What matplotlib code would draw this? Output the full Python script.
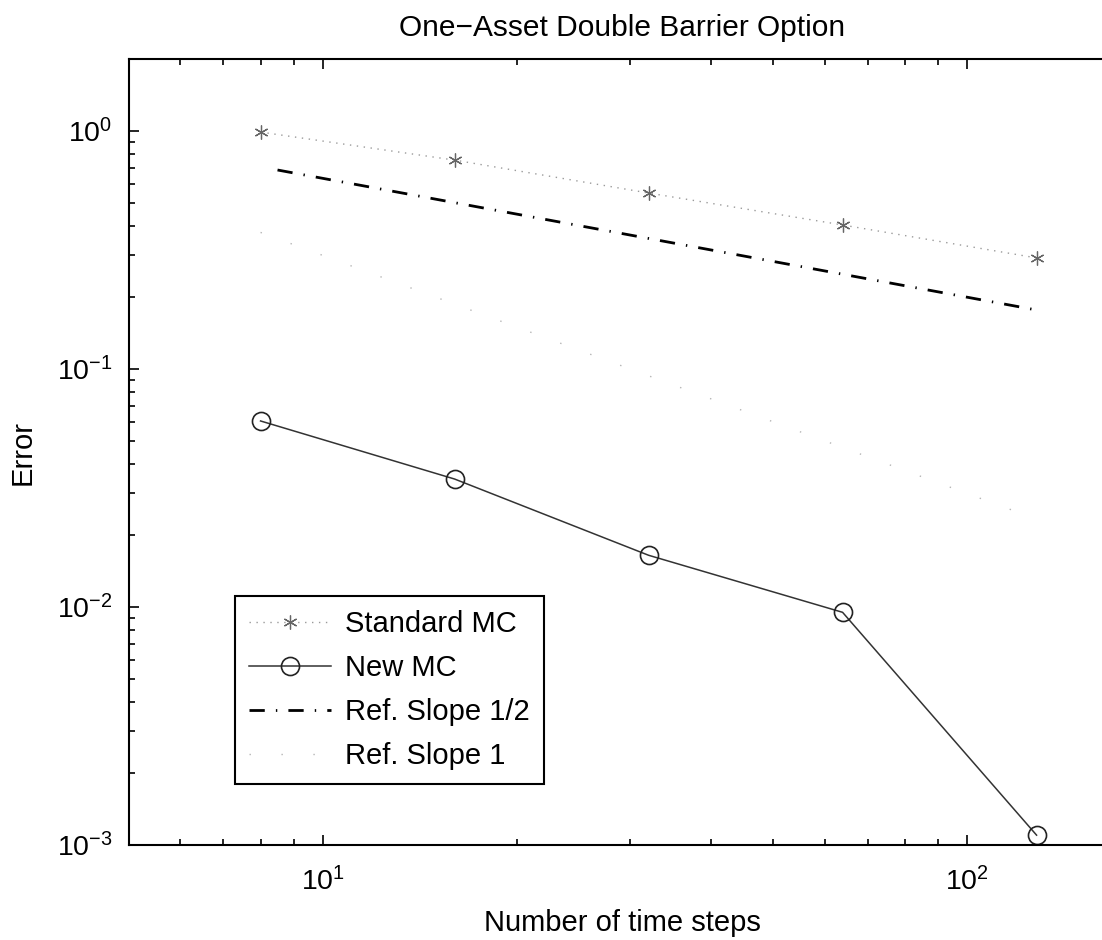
import matplotlib
matplotlib.use("Agg")
import matplotlib.pyplot as plt
from matplotlib.ticker import LogLocator, NullFormatter

plt.rcParams['font.family'] = ['Liberation Sans', 'DejaVu Sans']
plt.rcParams['mathtext.fontset'] = 'custom'
plt.rcParams['mathtext.rm'] = 'Liberation Sans'
plt.rcParams['mathtext.it'] = 'Liberation Sans:italic'
plt.rcParams['mathtext.bf'] = 'Liberation Sans:bold'
plt.rcParams['lines.scale_dashes'] = False

# ---- data ----
time_steps = [8, 16, 32, 64, 128]
standard_mc = [0.99, 0.755, 0.549, 0.403, 0.293]
new_mc = [0.0605, 0.0345, 0.0165, 0.0095, 0.0011]
ref_half_x = [8.5, 128]
ref_half_y = [0.686, 0.177]
ref_one_x = [8, 128]
ref_one_y = [0.375, 0.0234]
labels = ['Standard MC', 'New MC', 'Ref. Slope 1/2', 'Ref. Slope 1']

W, H = 1102, 940
fig = plt.figure(figsize=(W / 100, H / 100), dpi=100)
left_px, right_px, top_px, bot_px = 129, 1116, 59.4, 845
ax = fig.add_axes([left_px / W, 1 - bot_px / H, (right_px - left_px) / W, (bot_px - top_px) / H])

ax.plot(time_steps, standard_mc, linestyle=(0, (1, 4)), color='#9a9a9a', lw=1.0,
        marker=(6, 2, 0), markersize=10, markeredgewidth=0.9,
        markeredgecolor='#666666', label=labels[0])
ax.plot(time_steps, new_mc, linestyle='-', color='#333333', lw=1.1,
        marker='o', markersize=13, markerfacecolor='none',
        markeredgecolor='#222222', markeredgewidth=1.2, label=labels[1])
ax.plot(ref_half_x, ref_half_y, linestyle=(0, (11, 8, 1, 8)), color='black',
        lw=2.0, label=labels[2])
ax.plot(ref_one_x, ref_one_y, linestyle=(0, (1, 22)), color='#b5b5b5',
        lw=1.0, label=labels[3])

ax.set_xscale('log')
ax.set_yscale('log')
ax.set_xlim(5, 170)
ax.set_ylim(1e-3, 2)

ax.xaxis.set_major_locator(LogLocator(base=10))
ax.yaxis.set_major_locator(LogLocator(base=10))
ax.xaxis.set_minor_locator(LogLocator(base=10, subs=range(2, 10)))
ax.yaxis.set_minor_locator(LogLocator(base=10, subs=range(2, 10)))
ax.xaxis.set_minor_formatter(NullFormatter())
ax.yaxis.set_minor_formatter(NullFormatter())

ax.tick_params(which='both', direction='in', top=True, right=True,
               labelsize=20.5, width=1.2, colors='black')
ax.tick_params(which='major', length=7)
ax.tick_params(axis='x', which='major', pad=16)
ax.tick_params(axis='y', which='major', pad=12)
ax.tick_params(which='minor', length=4)
for s in ax.spines.values():
    s.set_linewidth(1.5)

ax.set_title('One\u2212Asset Double Barrier Option', fontsize=21.5, pad=17)
ax.set_xlabel('Number of time steps', fontsize=21, labelpad=9)
ax.set_ylabel('Error', fontsize=21, labelpad=14)

leg = ax.legend(loc='upper left', bbox_to_anchor=(235 / W, 1 - 596 / H),
                bbox_transform=fig.transFigure, borderaxespad=0,
                fontsize=21, numpoints=1, handlelength=2.8, handletextpad=0.5,
                labelspacing=0.55, borderpad=0.48, fancybox=False,
                framealpha=1, edgecolor='black')
leg.get_frame().set_linewidth(1.5)

fig.savefig('out.png', dpi=100)
